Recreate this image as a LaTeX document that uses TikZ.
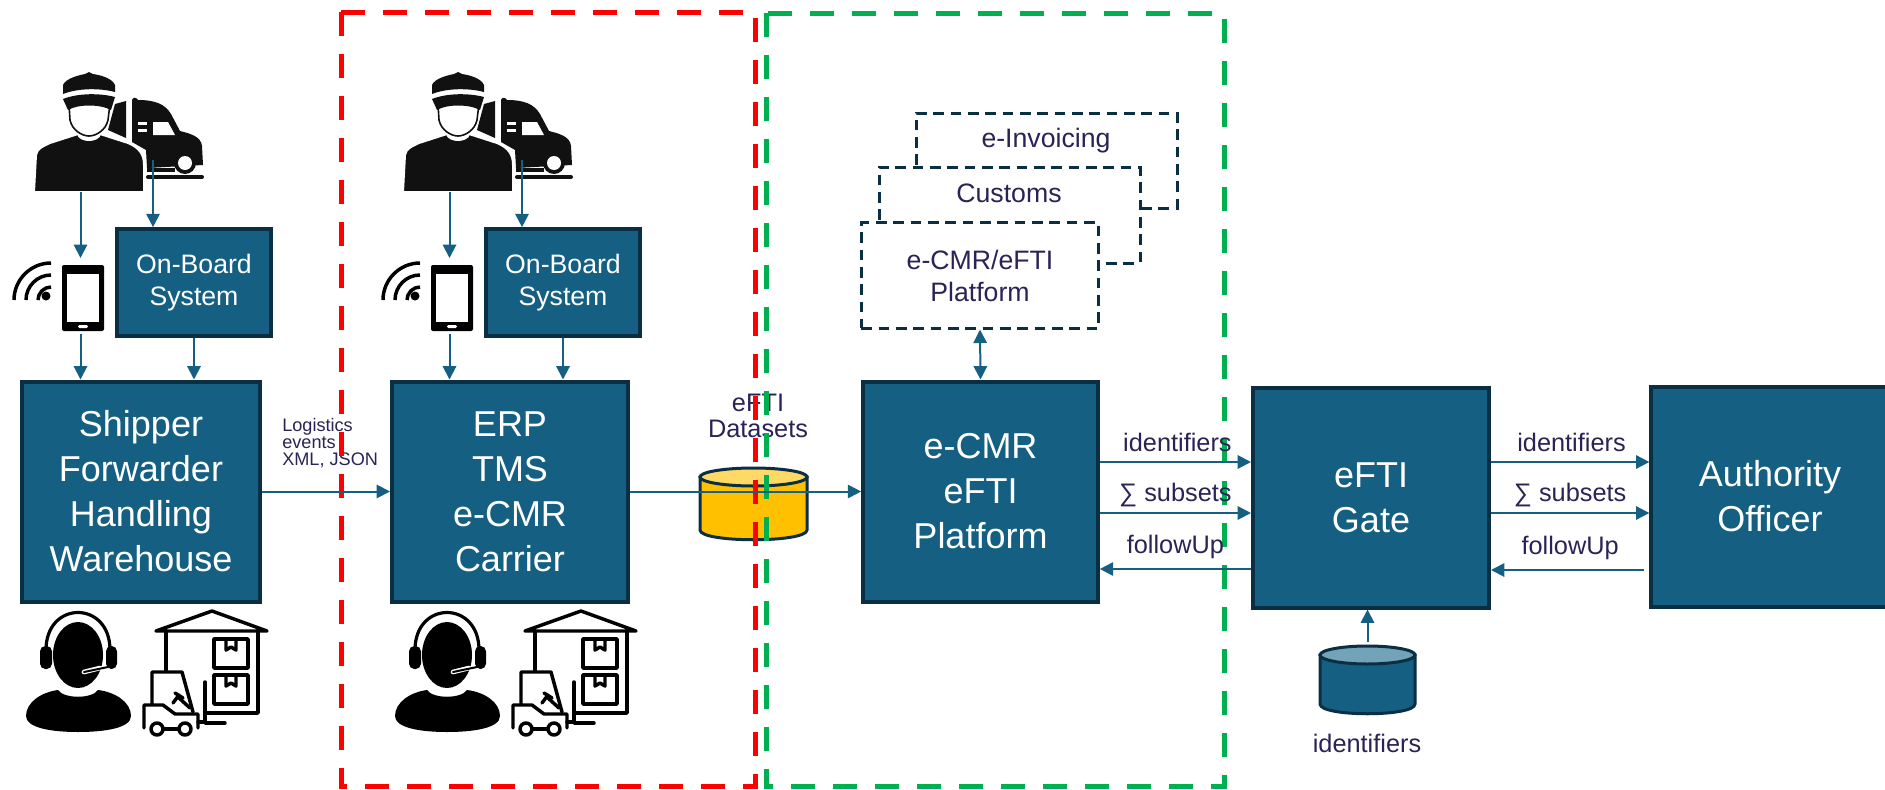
\documentclass[tikz,border=0pt]{standalone}
\usepackage{fontspec}
\setmainfont{Liberation Sans}
\usetikzlibrary{arrows.meta}
\definecolor{boxblue}{HTML}{156082}
\definecolor{boxedge}{HTML}{0B2F42}
\definecolor{inktext}{HTML}{2A2355}
\definecolor{iconblack}{HTML}{111111}
\definecolor{regiongreen}{HTML}{00B050}
\definecolor{storegold}{HTML}{FFC000}
\definecolor{storegoldtop}{HTML}{FFD966}
\definecolor{storebluetop}{HTML}{73A3B9}

% left, right, top, bottom, body colour, lid colour
\newcommand{\drawstore}[6]{
  \draw[draw=boxedge,line width=2.25pt,fill=#5] (#1,{#3+9}) -- (#1,{#4-10})
    .. controls (#1,{#4+3}) and (#2,{#4+3}) .. (#2,{#4-10}) -- (#2,{#3+9}) -- cycle;
  \draw[draw=boxedge,line width=2.25pt,fill=#6] ({(#1+#2)/2},{#3+9}) ellipse ({(#2-#1)/2} and 9);
}

\tikzset{
  bigbox/.style={draw=boxedge,fill=boxblue,line width=3pt,text=white,align=center,
    minimum height=165pt,font=\fontsize{27}{33.75}\selectfont},
  smallbox/.style={draw=boxedge,fill=boxblue,line width=3pt,text=white,align=center,
    minimum width=115pt,minimum height=80pt,font=\fontsize{20}{24}\selectfont},
  link/.style={draw=boxblue,line width=1.5pt},
  wordlabel/.style={text=inktext,align=center,inner sep=0pt,font=\fontsize{19}{20}\selectfont},
  stackword/.style={text=inktext,align=center,inner sep=0pt,font=\fontsize{20}{24}\selectfont},
  overlay box/.style={draw=boxedge,line width=2.25pt,dash pattern=on 8pt off 5pt},
  regionbox/.style={line width=3.75pt,dash pattern=on 18pt off 13.5pt},
  pics/driver/.style={code={
    % truck behind the person
    \fill[iconblack] (115,104) -- (126,101) -- (126,138) -- (108,130) -- cycle;
    \fill[iconblack] (132,100) .. controls (133,97) and (136,97) .. (138,100) .. controls (155,100) and (165,104) .. (171,114)
      -- (180,131) .. controls (192,134) and (201,137) .. (202,146) -- (203,165) -- (147,168) -- (146,150) -- (132,142) -- cycle;
    \fill[white] (153,122) -- (168,122) -- (175,135) -- (153,135) -- cycle;
    \fill[white] (138,122) rectangle (147,125);
    \fill[white] (138,129) rectangle (147,132);
    \fill[iconblack] (185,163) circle (11);
    \fill[white] (185,163) circle (7);
    \fill[iconblack] (147,168) rectangle (175,172);
    \draw[iconblack,line width=3pt,line cap=round] (148,177) -- (202,177);
    % person
    \fill[iconblack,draw=white,line width=1.5pt] (34,192) -- (36,155) .. controls (37,148) and (44,146) .. (50,143) -- (78,134)
      .. controls (80,142) and (98,142) .. (100,134) -- (128,143) .. controls (140,148) and (144,155) .. (144,165) -- (144,192) -- cycle;
    \draw[iconblack,line width=1.2pt,fill=white] (69,104) -- (70,120) .. controls (72,130) and (82,136) .. (89,136)
      .. controls (96,136) and (106,130) .. (108,120) -- (110,104) -- cycle;
    \fill[iconblack] (63,94) -- (63,85) .. controls (66,78) and (80,75) .. (85,74) -- (89,72) -- (93,74)
      .. controls (100,75) and (112,78) .. (115,85) -- (115,92) .. controls (100,88) and (78,88) .. (63,94) -- cycle;
    \fill[iconblack] (63,99) .. controls (78,93) and (100,93) .. (115,97) -- (111,110) .. controls (100,104) and (78,104) .. (68,110) -- cycle;
    \coordinate (-body) at (80.5,192);
    \coordinate (-truck) at (153,160);
  }},
  pics/handset/.style={code={
    \fill[black,rounded corners=1.5pt] (62,265) rectangle (104,331);
    \fill[white] (67,274) rectangle (99,322);
    \fill[white,rounded corners=1pt] (78,325) rectangle (88,328);
    \foreach \r in {13,25,37}
      \draw[black,line width=2.6pt] ({51-\r},300) .. controls ({51-\r},{300-.55*\r}) and ({51-.55*\r},{300-\r}) .. (51,{300-\r});
    \fill[black] (46,296) circle (4.5);
    \coordinate (-top) at (80.5,258);
    \coordinate (-bottom) at (80.5,334);
  }},
  pics/agent/.style={code={
    \draw[black,line width=2.4pt] (46,650) .. controls (46,600) and (110,600) .. (110,650);
    \fill[black,rounded corners=4pt] (40,646) rectangle (52,669);
    \fill[black,rounded corners=4pt] (106,646) rectangle (117,669);
    \fill[black] (78,655) ellipse (25 and 33);
    \draw[white,line width=3.5pt,line cap=round] (84,672) -- (100,668);
    \draw[black,line width=1.5pt,line cap=round] (84,672) -- (108,667);
    \fill[black] (26,716) .. controls (26,702) and (42,692) .. (58,690) .. controls (64,699) and (92,699) .. (98,690)
      .. controls (115,692) and (131,702) .. (131,716) .. controls (131,728) and (105,732) .. (78,732)
      .. controls (52,732) and (26,728) .. (26,716) -- cycle;
  }},
  pics/depot/.style={code={
    \begin{scope}[black,line width=2.6pt,line join=round,line cap=round]
      \draw (156,631) -- (212,611) -- (267,631) -- cycle;
      \draw (166,631) -- (166,670);
      \draw (258,631) -- (258,713) -- (205,713);
      \draw (205,682) -- (205,723) -- (225,723);
      \draw (214,639) rectangle (248,668);
      \draw (214,675) rectangle (248,704);
      \draw (226,639) -- (226,650) -- (231,647) -- (236,650) -- (236,639);
      \draw (226,675) -- (226,686) -- (231,683) -- (236,686) -- (236,675);
      \draw (152,704) -- (152,672) -- (182,672) -- (193,712);
      \draw (144,728) -- (144,705) -- (163,705) -- (175,714) -- (198,714) -- (198,728);
      \draw (198,722) -- (205,722);
      \draw (173,703) -- (179,695) (175,693) -- (183,698) (179,698) -- (190,708);
      \draw[fill=white] (157,729) circle (6);
      \draw[fill=white] (185,729) circle (6);
      \draw (163,729) -- (179,729);
    \end{scope}
  }},
}

\begin{document}
\begin{tikzpicture}[x=0.75pt,y=-0.75pt,>={Triangle[length=10pt,width=10pt]}]
    \useasboundingbox (0,0) rectangle (1885,789);
    \fill[white] (0,0) rectangle (1885,789);

    % icons of the two left columns
    \pic (driverA) at (0,0) {driver};
    \pic (driverB) at (369,0) {driver};
    \pic (phoneA) at (0,0) {handset};
    \pic (phoneB) at (369,0) {handset};
    \foreach \dx in {0,369} {
      \pic at (\dx,0) {agent};
      \pic at (\dx,0) {depot};
    }

    \node[bigbox,minimum width=178pt] (shipper) at (141,491.5) {Shipper\\Forwarder\\Handling\\Warehouse};
    \node[bigbox,minimum width=177pt] (erp) at (510,491.5) {ERP\\TMS\\e-CMR\\Carrier};
    \node[bigbox,minimum width=176pt] (platform) at (980.5,491.5) {e-CMR\\eFTI\\Platform};
    \node[bigbox,minimum width=177pt] (gate) at (1371,497.5) {eFTI\\Gate};
    \node[bigbox,minimum width=178pt] (officer) at (1770,496.5) {Authority\\Officer};
    \node[smallbox] (boardA) at (194,282.5) {On-Board\\System};
    \node[smallbox] (boardB) at (563,282.5) {On-Board\\System};

    % stack of dashed platforms
    \node[overlay box,stackword,minimum width=178pt,minimum height=79pt] (ecmr) at (980,275.5) {e-CMR/eFTI\\Platform};
    \draw[overlay box] (879,220) -- (879,167) -- (1140,167) -- (1140,263) -- (1100,263);
    \draw[overlay box] (916,165) -- (916,113) -- (1177,113) -- (1177,208) -- (1141,208);
    \node[stackword] (customs) at (1009,193) {Customs};
    \node[stackword] (invoicing) at (1046,141) {e-Invoicing};

    % data stores
    \node[inner sep=0pt,minimum width=80pt,minimum height=54pt] (datasets) at (753.5,504) {};
    \drawstore{700}{807}{468}{540}{storegold}{storegoldtop}
    \node[inner sep=0pt,minimum width=71pt,minimum height=51pt] (idstore) at (1367.5,680) {};
    \drawstore{1320}{1415}{646}{714}{boxblue}{storebluetop}

    \node[wordlabel] (datasetslabel) at (758,416) {eFTI\\Datasets};
    \node[wordlabel] (idlabel) at (1367,743) {identifiers};
    \node[text=inktext,inner sep=0pt,align=left,anchor=west,font=\fontsize{13.6}{13}\selectfont] (eventslabel) at (282,443) {Logistics\\events\\XML, JSON};

    % regions
    \draw[regionbox,draw=red] (341,12) rectangle (755,786);
    \draw[regionbox,draw=regiongreen] (766,13) rectangle (1224,786);

    \draw[->,link] (driverA-body) -- (phoneA-top);
    \draw[->,link] (driverA-truck) -- (boardA.north -| driverA-truck);
    \draw[->,link] (phoneA-bottom) -- (shipper.north -| phoneA-bottom);
    \draw[->,link] (boardA.south) -- (shipper.north -| boardA.south);
    \draw[->,link] (driverB-body) -- (phoneB-top);
    \draw[->,link] (driverB-truck) -- (boardB.north -| driverB-truck);
    \draw[->,link] (phoneB-bottom) -- (erp.north -| phoneB-bottom);
    \draw[->,link] (boardB.south) -- (erp.north -| boardB.south);
    \draw[->,link] (shipper.east) -- (erp.west);
    \draw[->,link] (erp.east) -- (platform.west);
    \draw[<->,link] (ecmr.south) -- (platform.north);
    \draw[->,link,shorten <=3pt] (idstore.north) -- (gate.south -| idstore.north);

    \draw[->,link] (platform.east |- 0,462) --node[above=7pt,xshift=1.5pt,wordlabel]{identifiers} (gate.west |- 0,462);
    \draw[->,link] (platform.east |- 0,513) --node[above=4pt,wordlabel]{∑ subsets} (gate.west |- 0,513);
    \draw[<-,link] (platform.east |- 0,569) --node[above=7pt,wordlabel]{followUp} (gate.west |- 0,569);
    \draw[->,link] (gate.east |- 0,462) --node[above=7pt,xshift=1pt,wordlabel]{identifiers} (officer.west |- 0,462);
    \draw[->,link] (gate.east |- 0,513) --node[above=4pt,wordlabel]{∑ subsets} (officer.west |- 0,513);
    \draw[<-,link,shorten >=4pt] (gate.east |- 0,570) --node[above=7pt,wordlabel]{followUp} (officer.west |- 0,570);
\end{tikzpicture}
\end{document}
